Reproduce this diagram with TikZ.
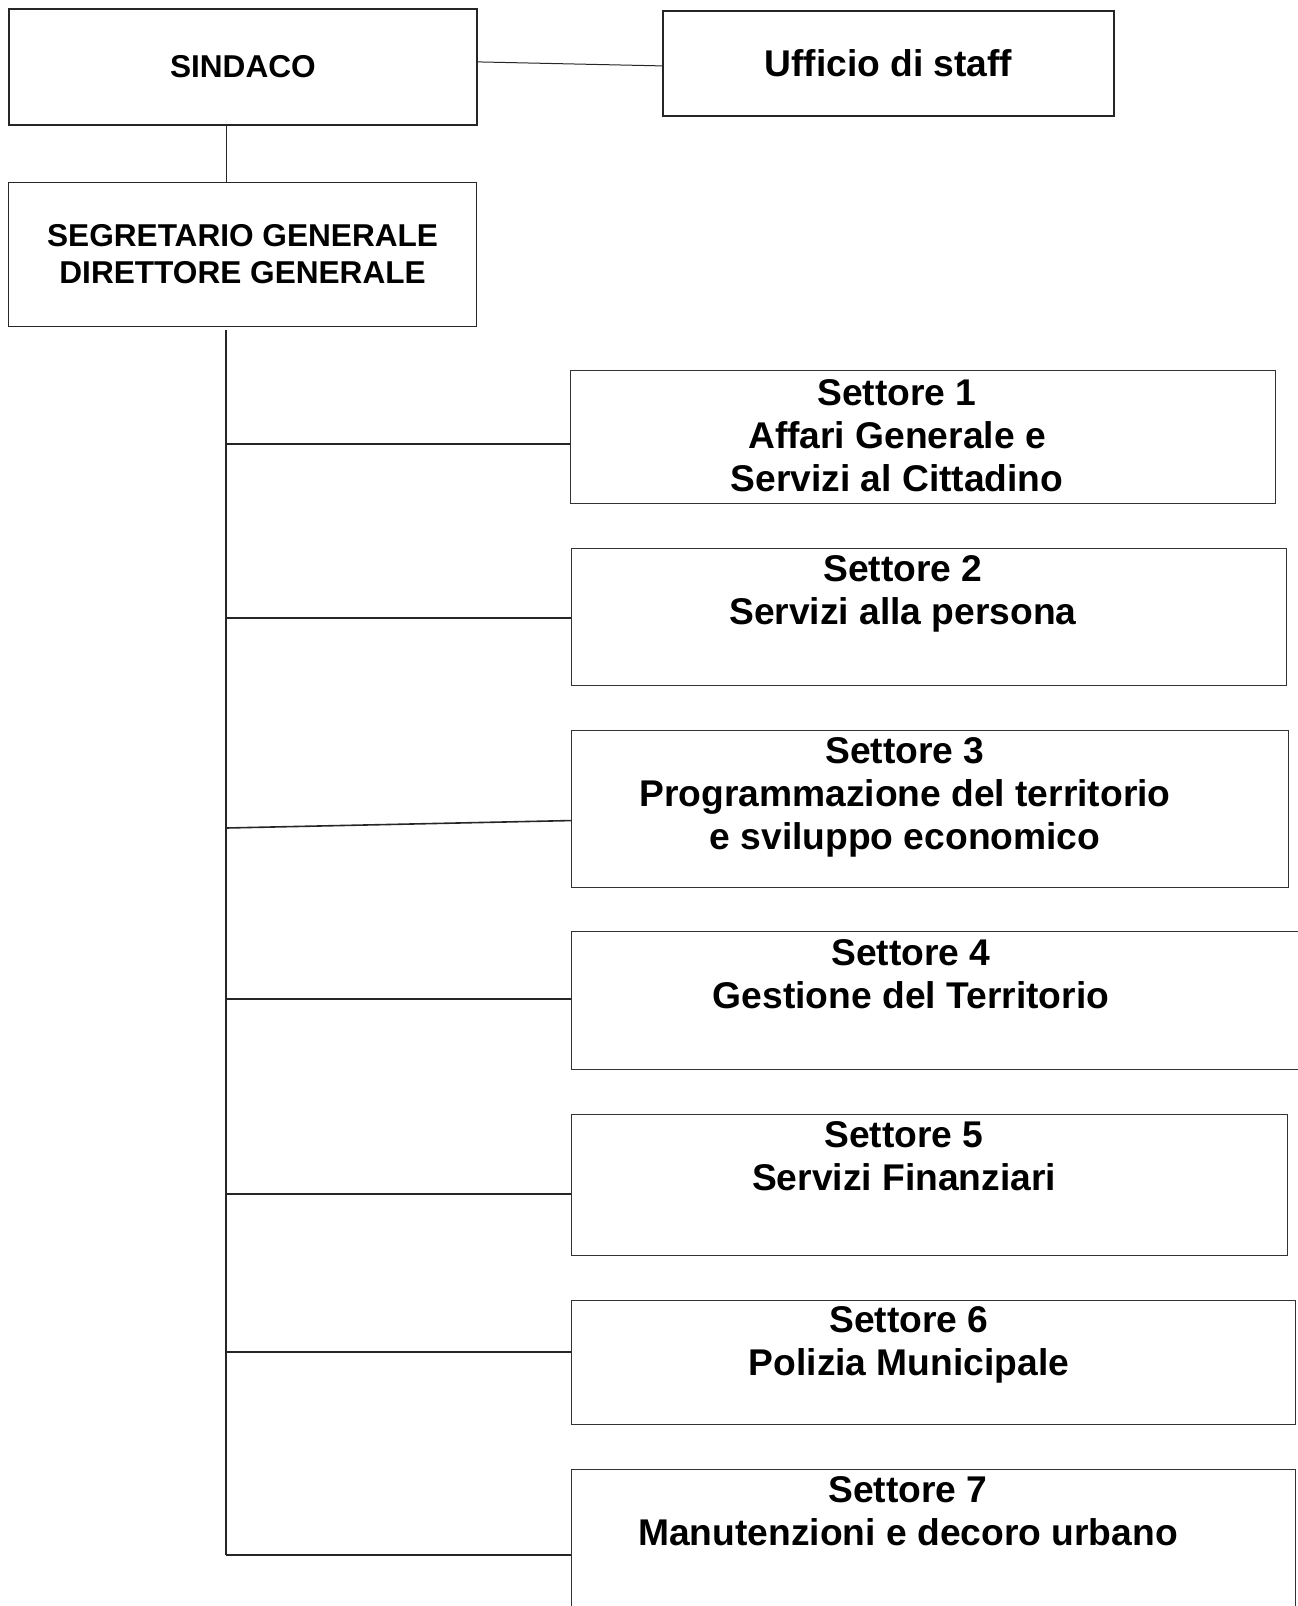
\documentclass[tikz,border=0pt]{standalone}
\usepackage{fontspec}
\setmainfont{Liberation Sans}
\usetikzlibrary{positioning}

\begin{document}
\begin{tikzpicture}[
    x=0.5pt, y=-0.5pt,
    topbox/.style={rectangle, draw=black!85, line width=0.9pt, inner sep=0pt,
                   anchor=north west},
    settbox/.style={rectangle, draw=black!80, line width=0.55pt, inner sep=0pt,
                    anchor=north west},
    toptext/.style={font=\bfseries\fontsize{15.8pt}{18.5pt}\selectfont, align=center},
    setttext/.style={font=\bfseries\fontsize{18.6pt}{21.5pt}\selectfont,
                     align=center, anchor=north, inner sep=0pt},
    link/.style={draw=black!85, line width=0.8pt}
]
  \useasboundingbox (0,0) rectangle (1297,1606);

  \node[topbox, minimum width=234pt, minimum height=58pt] (sindaco) at (8,8) {};
  \node[toptext] (sindacot) at (sindaco.center) {SINDACO};
  \node[topbox, minimum width=225.5pt, minimum height=52.5pt] (staff) at (662,10) {};
  \node[toptext, font=\bfseries\fontsize{18.6pt}{21.5pt}\selectfont] (stafft) at (staff.center) {Ufficio di staff};
  \node[topbox, line width=0.6pt, minimum width=234pt, minimum height=72pt] (segr) at (8,182) {};
  \node[toptext] (segrt) at (segr.center) {SEGRETARIO GENERALE\\DIRETTORE GENERALE};

  \node[settbox, minimum width=352.5pt, minimum height=66.5pt] (s1) at (570,370) {};
  \node[settbox, minimum width=357.5pt, minimum height=68.5pt] (s2) at (571,548) {};
  \node[settbox, minimum width=358.5pt, minimum height=78.5pt] (s3) at (571,730) {};
  \node[settbox, minimum width=370pt, minimum height=69pt] (s4) at (571,931) {};
  \node[settbox, minimum width=358pt, minimum height=70.5pt] (s5) at (571,1114) {};
  \node[settbox, minimum width=362pt, minimum height=62pt] (s6) at (571,1300) {};
  \node[settbox, minimum width=362pt, minimum height=80pt] (s7) at (571,1469) {};

  \node[setttext] (t1) at (897,379) {Settore 1\\Affari Generale e\\Servizi al Cittadino};
  \node[setttext] (t2) at (903,555) {Settore 2\\Servizi alla persona};
  \node[setttext] (t3) at (905,737) {Settore 3\\Programmazione del territorio\\e sviluppo economico};
  \node[setttext] (t4) at (911,939) {Settore 4\\Gestione del Territorio};
  \node[setttext] (t5) at (904,1121) {Settore 5\\Servizi Finanziari};
  \node[setttext] (t6) at (909,1306) {Settore 6\\Polizia Municipale};
  \node[setttext] (t7) at (908,1476) {Settore 7\\Manutenzioni e decoro urbano};

  \coordinate (top) at (226,330);
  \coordinate (bot) at (226,1555);
  \foreach \i/\y in {1/444, 2/618, 3/828, 4/999, 5/1194, 6/1352, 7/1555}
    \coordinate (b\i) at (226,\y);

  \draw[link, line width=0.5pt] ([yshift=2.5pt]sindaco.east) -- ([yshift=-1.25pt]staff.west);
  \draw[link, line width=0.5pt] (sindaco.south -| top) -- (segr.north -| top);
  \draw[link] (top) -- (bot);
  \foreach \i in {1,2,4,5,6,7}
    \draw[link] (b\i) -- (b\i -| s\i.west);
  \draw[link] (b3) -- ([yshift=-5.75pt]s3.west);
\end{tikzpicture}
\end{document}
